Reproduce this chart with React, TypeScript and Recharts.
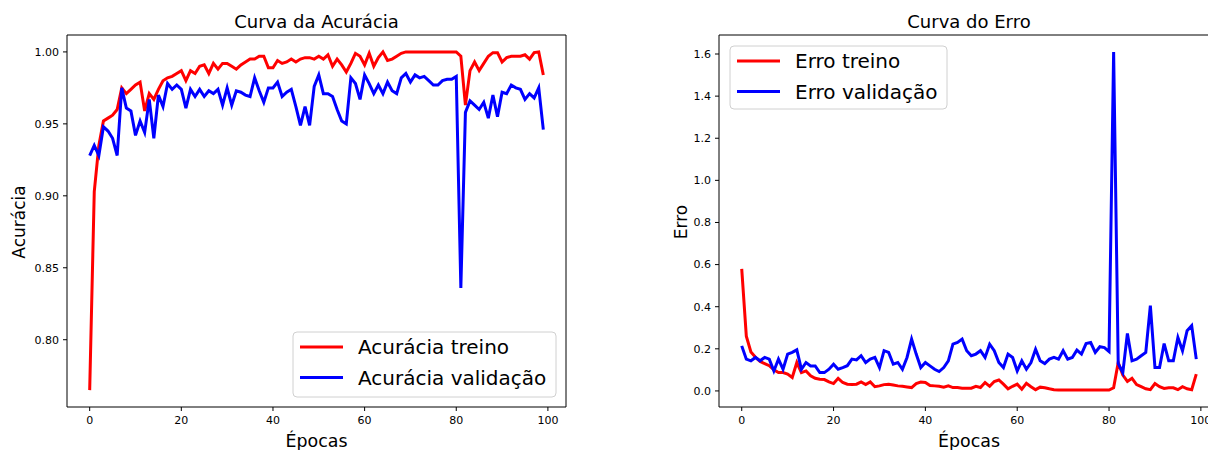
import React from 'react';
import { LineChart, Line, XAxis, YAxis } from 'recharts';

// épocas 0..99
const epocas = Array.from({ length: 100 }, (_, i) => i);

const acuraciaTreino = [
  0.765, 0.903, 0.935, 0.952, 0.954, 0.956, 0.960, 0.975, 0.971, 0.974,
  0.977, 0.979, 0.959, 0.971, 0.967, 0.974, 0.980, 0.982, 0.983, 0.985,
  0.987, 0.980, 0.987, 0.985, 0.990, 0.991, 0.985, 0.992, 0.988, 0.992,
  0.992, 0.990, 0.988, 0.991, 0.993, 0.995, 0.995, 0.997, 0.997, 0.989,
  0.989, 0.994, 0.992, 0.993, 0.995, 0.993, 0.995, 0.996, 0.996, 0.995,
  0.997, 0.995, 0.998, 0.990, 0.995, 0.991, 0.986, 0.992, 0.999, 0.997,
  0.991, 0.999, 0.990, 0.996, 1.000, 0.994, 0.995, 0.997, 0.999, 1.000,
  1.000, 1.000, 1.000, 1.000, 1.000, 1.000, 1.000, 1.000, 1.000, 1.000,
  1.000, 0.997, 0.963, 0.987, 0.993, 0.987, 0.992, 0.997, 0.9995, 0.9995,
  0.993, 0.996, 0.997, 0.997, 0.997, 0.998, 0.995, 0.9995, 1.000, 0.984,
];

const acuraciaValidacao = [
  0.928, 0.935, 0.928, 0.948, 0.945, 0.940, 0.928, 0.975, 0.961, 0.959,
  0.942, 0.952, 0.944, 0.967, 0.940, 0.970, 0.962, 0.978, 0.974, 0.977,
  0.974, 0.961, 0.974, 0.969, 0.974, 0.969, 0.973, 0.971, 0.974, 0.963,
  0.975, 0.963, 0.973, 0.972, 0.970, 0.969, 0.982, 0.973, 0.965, 0.975,
  0.975, 0.979, 0.969, 0.972, 0.974, 0.962, 0.949, 0.962, 0.949, 0.976,
  0.984, 0.971, 0.971, 0.969, 0.960, 0.952, 0.950, 0.982, 0.978, 0.967,
  0.984, 0.978, 0.971, 0.977, 0.971, 0.979, 0.973, 0.971, 0.982, 0.985,
  0.979, 0.984, 0.982, 0.983, 0.980, 0.977, 0.977, 0.980, 0.981, 0.981,
  0.983, 0.836, 0.958, 0.966, 0.963, 0.960, 0.965, 0.954, 0.970, 0.955,
  0.972, 0.971, 0.977, 0.975, 0.974, 0.967, 0.971, 0.968, 0.975, 0.946,
];

const erroTreino = [
  0.580, 0.260, 0.185, 0.160, 0.140, 0.130, 0.120, 0.100, 0.087, 0.087,
  0.080, 0.064, 0.135, 0.087, 0.095, 0.072, 0.060, 0.056, 0.054, 0.043,
  0.035, 0.060, 0.040, 0.032, 0.030, 0.032, 0.043, 0.030, 0.043, 0.020,
  0.024, 0.030, 0.032, 0.028, 0.024, 0.022, 0.019, 0.016, 0.035, 0.042,
  0.040, 0.026, 0.024, 0.022, 0.018, 0.024, 0.016, 0.016, 0.013, 0.013,
  0.013, 0.022, 0.016, 0.040, 0.022, 0.045, 0.052, 0.032, 0.010, 0.022,
  0.032, 0.008, 0.036, 0.020, 0.006, 0.018, 0.015, 0.010, 0.006, 0.004,
  0.004, 0.004, 0.004, 0.004, 0.004, 0.004, 0.004, 0.004, 0.004, 0.004,
  0.004, 0.015, 0.135, 0.075, 0.045, 0.060, 0.030, 0.020, 0.010, 0.006,
  0.035, 0.020, 0.012, 0.015, 0.015, 0.006, 0.020, 0.010, 0.006, 0.080,
];

const erroValidacao = [
  0.214, 0.151, 0.143, 0.159, 0.143, 0.159, 0.151, 0.095, 0.151, 0.103,
  0.175, 0.183, 0.195, 0.103, 0.135, 0.119, 0.119, 0.087, 0.087, 0.103,
  0.127, 0.103, 0.111, 0.120, 0.151, 0.147, 0.167, 0.135, 0.151, 0.159,
  0.111, 0.191, 0.183, 0.127, 0.135, 0.103, 0.159, 0.246, 0.175, 0.111,
  0.135, 0.119, 0.103, 0.092, 0.111, 0.143, 0.222, 0.230, 0.246, 0.191,
  0.167, 0.175, 0.191, 0.159, 0.222, 0.191, 0.135, 0.111, 0.175, 0.159,
  0.095, 0.143, 0.103, 0.135, 0.198, 0.143, 0.130, 0.151, 0.159, 0.151,
  0.191, 0.151, 0.159, 0.194, 0.175, 0.225, 0.230, 0.183, 0.210, 0.206,
  0.187, 1.610, 0.130, 0.087, 0.273, 0.143, 0.151, 0.167, 0.183, 0.405,
  0.111, 0.111, 0.225, 0.143, 0.143, 0.254, 0.191, 0.286, 0.310, 0.151,
];

const ticksX = [0, 20, 40, 60, 80, 100];
const ticksAcuracia = [0.8, 0.85, 0.9, 0.95, 1.0];
const ticksErro = [0, 0.2, 0.4, 0.6, 0.8, 1.0, 1.2, 1.4, 1.6];

const FONTE = '"DejaVu Sans", sans-serif';
const dominioX: [number, number] = [-4.95, 103.95];
const tickStyle = { fill: '#000', fontSize: 11, fontFamily: FONTE };

type PainelProps = {
  left: number,
  width: number,
  yWidth: number,
  treino: number[],
  validacao: number[],
  dominioY: [number, number],
  ticksY: number[],
  casas: number,
};

const Painel = ({ left, width, yWidth, treino, validacao, dominioY, ticksY, casas }: PainelProps) => {
  const data = epocas.map((e, i) => ({ epoca: e, treino: treino[i], validacao: validacao[i] }));
  return (
    <div style={{ position: 'absolute', left, top: 0 }}>
      <LineChart width={width} height={450} data={data} margin={{ top: 34, right: 13, left: 0, bottom: 0 }}>
        <XAxis xAxisId="base" dataKey="epoca" type="number" domain={dominioX} ticks={ticksX}
          allowDataOverflow height={43} tickSize={4} tickMargin={5} stroke="#000" tick={tickStyle} />
        {/* eixo de cima e da direita só para fechar a moldura */}
        <XAxis xAxisId="topo" orientation="top" dataKey="epoca" type="number" domain={dominioX}
          allowDataOverflow height={1} tick={false} tickLine={false} stroke="#000" />
        <YAxis yAxisId="esq" type="number" domain={dominioY} ticks={ticksY} allowDataOverflow
          width={yWidth} tickSize={4} tickMargin={4} stroke="#000" tick={tickStyle}
          tickFormatter={(v: number) => v.toFixed(casas)} />
        <YAxis yAxisId="dir" orientation="right" type="number" domain={dominioY} allowDataOverflow
          width={1} tick={false} tickLine={false} stroke="#000" />
        <Line xAxisId="base" yAxisId="esq" type="linear" dataKey="treino" stroke="#ff0000"
          strokeWidth={3} dot={false} activeDot={false} isAnimationActive={false} />
        <Line xAxisId="base" yAxisId="esq" type="linear" dataKey="validacao" stroke="#0000ff"
          strokeWidth={3} dot={false} activeDot={false} isAnimationActive={false} />
      </LineChart>
    </div>
  );
};

type LegendaProps = { x: number, y: number, w: number, h: number, nomes: string[] };

const Legenda = ({ x, y, w, h, nomes }: LegendaProps) => (
  <g>
    <rect x={x} y={y} width={w} height={h} rx={4} fill="rgba(255,255,255,0.8)" stroke="#d0d0d0" />
    <line x1={x + 7} x2={x + 50} y1={y + 15} y2={y + 15} stroke="#ff0000" strokeWidth={3} />
    <line x1={x + 7} x2={x + 50} y1={y + 45.5} y2={y + 45.5} stroke="#0000ff" strokeWidth={3} />
    <text x={x + 65} y={y + 22} fontSize={20} fill="#000">{nomes[0]}</text>
    <text x={x + 65} y={y + 52.5} fontSize={20} fill="#000">{nomes[1]}</text>
  </g>
);

const App = () => {
  return (
    <div style={{ position: 'absolute', left: 0, top: 0, width: 1208, height: 450, overflow: 'hidden', background: '#fff' }}>
      <Painel left={0} width={580} yWidth={67} treino={acuraciaTreino} validacao={acuraciaValidacao}
        dominioY={[0.75325, 1.01175]} ticksY={ticksAcuracia} casas={2} />
      <Painel left={650} width={583} yWidth={69} treino={erroTreino} validacao={erroValidacao}
        dominioY={[-0.0763, 1.6903]} ticksY={ticksErro} casas={1} />
      <svg width={1208} height={450} style={{ position: 'absolute', left: 0, top: 0, pointerEvents: 'none' }}
        fontFamily={FONTE}>
        <text x={316.5} y={28} fontSize={18} textAnchor="middle" fill="#000">Curva da Acurácia</text>
        <text x={969} y={28} fontSize={18} textAnchor="middle" fill="#000">Curva do Erro</text>
        <text x={316.5} y={446.5} fontSize={17.4} textAnchor="middle" fill="#000">Épocas</text>
        <text x={969} y={446.5} fontSize={17.4} textAnchor="middle" fill="#000">Épocas</text>
        <text x={25} y={222} fontSize={17} textAnchor="middle" fill="#000" transform="rotate(-90 25 222)">Acurácia</text>
        <text x={687} y={222} fontSize={17} textAnchor="middle" fill="#000" transform="rotate(-90 687 222)">Erro</text>
        <Legenda x={293} y={332} w={263} h={65} nomes={['Acurácia treino', 'Acurácia validação']} />
        <Legenda x={730} y={46} w={217} h={63} nomes={['Erro treino', 'Erro validação']} />
      </svg>
    </div>
  );
};

export default App;
